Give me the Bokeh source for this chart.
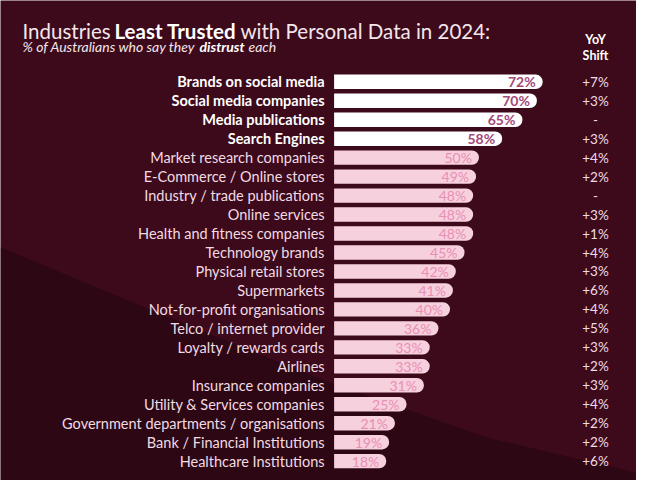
from bokeh.plotting import figure
from bokeh.models import Range1d, ColumnDataSource, Label, PolyAnnotation
from bokeh.core.properties import value
from bokeh.embed import file_html
from bokeh.resources import INLINE

categories = [
    "Brands on social media", "Social media companies", "Media publications",
    "Search Engines", "Market research companies", "E-Commerce / Online stores",
    "Industry / trade publications", "Online services", "Health and fitness companies",
    "Technology brands", "Physical retail stores", "Supermarkets",
    "Not-for-profit organisations", "Telco / internet provider", "Loyalty / rewards cards",
    "Airlines", "Insurance companies", "Utility & Services companies",
    "Government departments / organisations", "Bank / Financial Institutions",
    "Healthcare Institutions",
]
distrust = [72, 70, 65, 58, 50, 49, 48, 48, 48, 45, 42, 41, 40, 36, 33, 33, 31, 25, 21, 19, 18]
yoy_shift = ["+7%", "+3%", "-", "+3%", "+4%", "+2%", "-", "+3%", "+1%", "+4%", "+3%",
             "+6%", "+4%", "+5%", "+3%", "+2%", "+3%", "+4%", "+2%", "+2%", "+6%"]
highlight_count = 4

FONT = "Lato"
BG = "#3c0a1b"
DARK = "#22060f"
W, H = 636, 480
SX, SY = W / 652, H / 496   # reference layout -> figure pixels

def fx(rx):
    return rx * SX

def fyb(ry):  # reference y (from top) -> screen y from bottom
    return H - ry * SY

n = len(categories)
rows = list(range(n))
hi = [i < highlight_count for i in rows]

src = ColumnDataSource(dict(
    y=rows,
    v=distrust,
    label=categories,
    vlabel=[f"{v}%" for v in distrust],
    yoy=yoy_shift,
    bar_color=["#ffffff" if h else "#f7d0de" for h in hi],
    val_color=["#a44878" if h else "#e98fb3" for h in hi],
    lab_color=["#ffffff" if h else "#f2dbe3" for h in hi],
    lab_weight=["bold" if h else "normal" for h in hi],
))

px = 2.97 * SX          # figure pixels per percent
x0 = fx(342)            # figure x of zero
row0, rstep = 84 * SY, 19.6 * SY
p = figure(width=W, height=H, output_backend="svg", toolbar_location=None,
           x_range=Range1d(-x0 / px, (W - x0) / px),
           y_range=Range1d((H - row0) / rstep, -row0 / rstep),
           min_border=0, background_fill_color=BG, border_fill_color=BG,
           outline_line_color=None)
p.axis.visible = False
p.grid.visible = False

# darker lower-left region of background
bx = [0, 150, 330, 500, 652, 652, 0]
by = [255, 318, 392, 452, 488, 496, 496]
p.add_layout(PolyAnnotation(
    xs=[fx(v) for v in bx], ys=[fyb(v) for v in by],
    xs_units="screen", ys_units="screen",
    fill_color=DARK, fill_alpha=0.55, line_color=None, level="underlay"))

p.hbar(y="y", left=0, right="v", height=0.76, source=src, fill_color="bar_color",
       line_color=None, border_radius=(0, 7, 7, 0))

p.text(x=0, y="y", text="label", source=src, x_offset=-9.5, text_align="right",
       text_baseline="middle", text_font=value(FONT), text_font_size="14.5px",
       text_color="lab_color", text_font_style="lab_weight")

p.text(x="v", y="y", text="vlabel", source=src, x_offset=-7, text_align="right",
       text_baseline="middle", text_font=value(FONT), text_font_size="14px",
       text_color="val_color", text_font_style="lab_weight")

yoy_x = (fx(610) - x0) / px
p.text(x=yoy_x, y="y", text="yoy", source=src, text_align="center",
       text_baseline="middle", text_font=value(FONT), text_font_size="13.5px",
       text_color="#f2dbe3")

def lab(x, y, t, size, style="normal", color="#f4e6ea", align="left", base="alphabetic"):
    p.add_layout(Label(x=x, y=y, x_units="screen", y_units="screen", text=t,
                       text_font=FONT, text_font_size=size, text_font_style=style,
                       text_color=color, text_align=align, text_baseline=base))

ty = fyb(31)
lab(22, ty, "Industries", "20.5px")
lab(114, ty, "Least Trusted", "20.5px", "bold", "#ffffff")
lab(240, ty, "with Personal Data in 2024:", "20.5px")
sy = fyb(48)
lab(22, sy, "% of Australians who say they", "14px", "italic")
lab(199, sy, "distrust", "14px", "bold italic", "#ffffff")
lab(248, sy, "each", "14px", "italic")
lab(fx(610), fyb(40), "YoY", "12.5px", "bold", "#ffffff", "center", "middle")
lab(fx(610), fyb(57), "Shift", "12.5px", "bold", "#ffffff", "center", "middle")

html = file_html(p, INLINE)
html = html.replace("<body>", f'<body style="background:{BG};">', 1)
open("out.html", "w").write(html)
